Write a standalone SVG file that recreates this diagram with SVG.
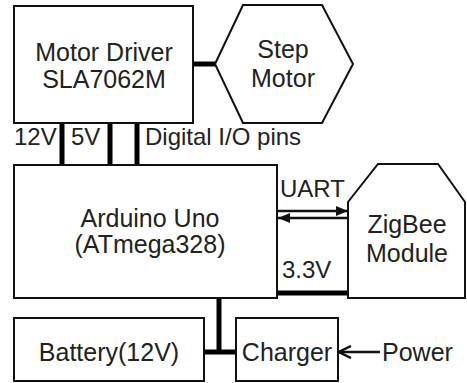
<svg xmlns="http://www.w3.org/2000/svg" width="467" height="383" viewBox="0 0 467 383">
<style>
.box{fill:#fff;stroke:#111;stroke-width:2}
.t{font-family:"Liberation Sans",Arial,sans-serif;font-size:25px;fill:#222}
.s{font-family:"Liberation Sans",Arial,sans-serif;font-size:24px;fill:#222}
.c{text-anchor:middle}
.thick{stroke:#000;stroke-width:5;fill:none}
.thin{stroke:#111;stroke-width:2.5;fill:none}
</style>
<defs>
<marker id="tri" markerWidth="12" markerHeight="10" refX="12" refY="5" orient="auto" markerUnits="userSpaceOnUse">
<path d="M0,0 L12,5 L0,10 Z" fill="#111"/>
</marker>
<marker id="open" markerWidth="14" markerHeight="14" refX="13" refY="7" orient="auto" markerUnits="userSpaceOnUse">
<path d="M1,1 L13,7 L1,13" fill="none" stroke="#111" stroke-width="2.5"/>
</marker>
</defs>
<rect width="467" height="383" fill="#fff"/>
<g id="connectors">
<line class="thick" x1="193" y1="64" x2="215" y2="64"/>
<line class="thick" x1="62" y1="123" x2="62" y2="165"/>
<line class="thick" x1="110" y1="123" x2="110" y2="165"/>
<line class="thick" x1="137" y1="123" x2="137" y2="165"/>
<line class="thin" x1="278" y1="211" x2="348" y2="211" marker-end="url(#tri)"/>
<line class="thin" x1="348" y1="218" x2="278" y2="218" marker-end="url(#tri)"/>
<line class="thick" x1="277" y1="293" x2="348" y2="293"/>
<line class="thick" x1="219" y1="298" x2="219" y2="352"/>
<line class="thick" x1="204" y1="352" x2="236" y2="352"/>
<line class="thin" x1="380" y1="352" x2="339" y2="352" marker-end="url(#open)"/>
<text class="s" x="14" y="145">12V</text>
<text class="s" x="71" y="145">5V</text>
<text class="s" x="145" y="145">Digital I/O pins</text>
<text class="s" x="280" y="197">UART</text>
<text class="s" x="282" y="278">3.3V</text>
<text class="t" x="382" y="361">Power</text>
</g>
<g id="motor-driver">
<rect class="box" x="14" y="6" width="179" height="117"/>
<text class="t c" x="104" y="61">Motor Driver</text>
<text class="t c" x="104" y="88">SLA7062M</text>
</g>
<g id="step-motor">
<polygon class="box" points="215,64 243,5 322,5 353,64 322,123 243,123"/>
<text class="t c" x="283" y="58">Step</text>
<text class="t c" x="283" y="87">Motor</text>
</g>
<g id="arduino">
<rect class="box" x="14" y="165" width="263" height="133"/>
<text class="t c" x="150" y="227">Arduino Uno</text>
<text class="t c" x="150" y="253">(ATmega328)</text>
</g>
<g id="zigbee">
<polygon class="box" points="348,298 348,202 378,164 438,164 465,202 465,298"/>
<text class="t c" x="407" y="233">ZigBee</text>
<text class="t c" x="407" y="262">Module</text>
</g>
<g id="battery">
<rect class="box" x="14" y="318" width="190" height="63"/>
<text class="t c" x="109" y="361">Battery(12V)</text>
</g>
<g id="charger">
<rect class="box" x="236" y="318" width="102" height="63"/>
<text class="t c" x="287" y="361">Charger</text>
</g>
</svg>
